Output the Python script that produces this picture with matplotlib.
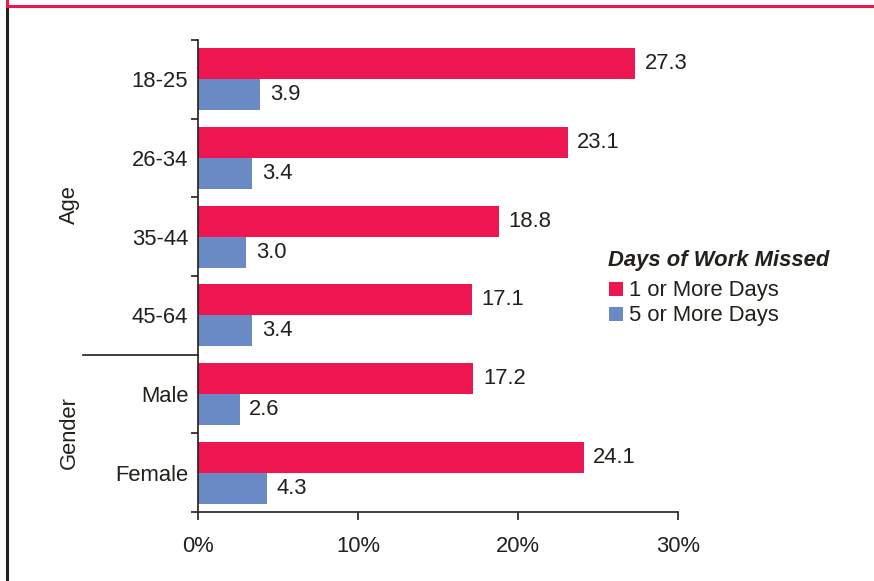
import matplotlib
matplotlib.use("Agg")
import matplotlib.pyplot as plt
from matplotlib.lines import Line2D
from matplotlib.patches import Patch

categories = ["18-25", "26-34", "35-44", "45-64", "Male", "Female"]
one_or_more = [27.3, 23.1, 18.8, 17.1, 17.2, 24.1]
five_or_more = [3.9, 3.4, 3.0, 3.4, 2.6, 4.3]
xticks = [0, 10, 20, 30]
xtick_labels = ["0%", "10%", "20%", "30%"]
series_names = ["1 or More Days", "5 or More Days"]
legend_title = "Days of Work Missed"
group_labels = ["Age", "Gender"]

RED = "#ED1651"
BLUE = "#6A8AC6"
TXT = "#231F1A"

plt.rcParams['font.family'] = ['Liberation Sans', 'DejaVu Sans']

W, H = 874, 581
fig = plt.figure(figsize=(W / 100, H / 100), dpi=100)
ax = fig.add_axes([198 / W, (H - 512) / H, (678 - 198) / W, (512 - 40) / H])

n = len(categories)
ys = list(range(n))
bh = 0.395
off = 0.197
ax.barh([y - off for y in ys], one_or_more, height=bh, color=RED, linewidth=0)
ax.barh([y + off for y in ys], five_or_more, height=bh, color=BLUE, linewidth=0)

fs = 15.8
for y, v in zip(ys, one_or_more):
    ax.annotate(f"{v:.1f}", (v, y - off), xytext=(7, 0), textcoords="offset points",
                va="center", ha="left", fontsize=fs, color=TXT)
for y, v in zip(ys, five_or_more):
    ax.annotate(f"{v:.1f}", (v, y + off), xytext=(7, 0), textcoords="offset points",
                va="center", ha="left", fontsize=fs, color=TXT)

ax.set_xlim(0, 30)
ax.set_ylim(n - 0.5, -0.5)
for s in ["top", "right"]:
    ax.spines[s].set_visible(False)
for s in ["left", "bottom"]:
    ax.spines[s].set_color(TXT)
    ax.spines[s].set_linewidth(1.2)

ax.set_xticks(xticks)
ax.set_xticklabels(xtick_labels, fontsize=fs, color=TXT)
ax.tick_params(axis="x", length=6, width=1.2, color=TXT, pad=11, direction="out")

bounds = [-0.5, 0.5, 1.5, 2.5, 4.5, 5.5]
ax.set_yticks(bounds)
ax.set_yticklabels([])
ax.tick_params(axis="y", which="major", length=5, width=1.2, color=TXT, direction="out")
ax.set_yticks(ys, minor=True)
ax.set_yticklabels(categories, minor=True, fontsize=fs, color=TXT)
ax.tick_params(axis="y", which="minor", length=0, pad=7)

# separator between Age and Gender
ax.plot([-115 / 16, 0], [3.5, 3.5], color=TXT, lw=1.2, clip_on=False)

# group labels
fig.text(69 / W, 1 - 205 / H, group_labels[0], rotation=90, ha="center", va="center",
         fontsize=fs, color=TXT)
fig.text(69 / W, 1 - 433 / H, group_labels[1], rotation=90, ha="center", va="center",
         fontsize=fs, color=TXT)

# legend title
fig.text(608 / W, 1 - 260 / H, legend_title, ha="left", va="center", fontsize=fs,
         fontweight="bold", fontstyle="italic", color=TXT)

# legend
handles = [Patch(facecolor=RED, edgecolor="none"), Patch(facecolor=BLUE, edgecolor="none")]
leg = fig.legend(handles, series_names, loc="upper left",
                 bbox_to_anchor=(594 / W, 1 - 265 / H), frameon=False, fontsize=fs,
                 handlelength=0.6, handleheight=0.6, handletextpad=0.3,
                 labelspacing=0.18, borderpad=0.2)
for t in leg.get_texts():
    t.set_color(TXT)

# frame lines
fig.add_artist(Line2D([7 / W, 1], [1 - 6 / H, 1 - 6 / H], color=RED, lw=2.2,
                      transform=fig.transFigure))
fig.add_artist(Line2D([7 / W, 7 / W], [1, 1 - 6 / H], color=RED, lw=2.2,
                      transform=fig.transFigure))
fig.add_artist(Line2D([7 / W, 7 / W], [0, 1 - 9 / H], color=TXT, lw=2.2,
                      transform=fig.transFigure))

fig.savefig("out.png", dpi=100)
